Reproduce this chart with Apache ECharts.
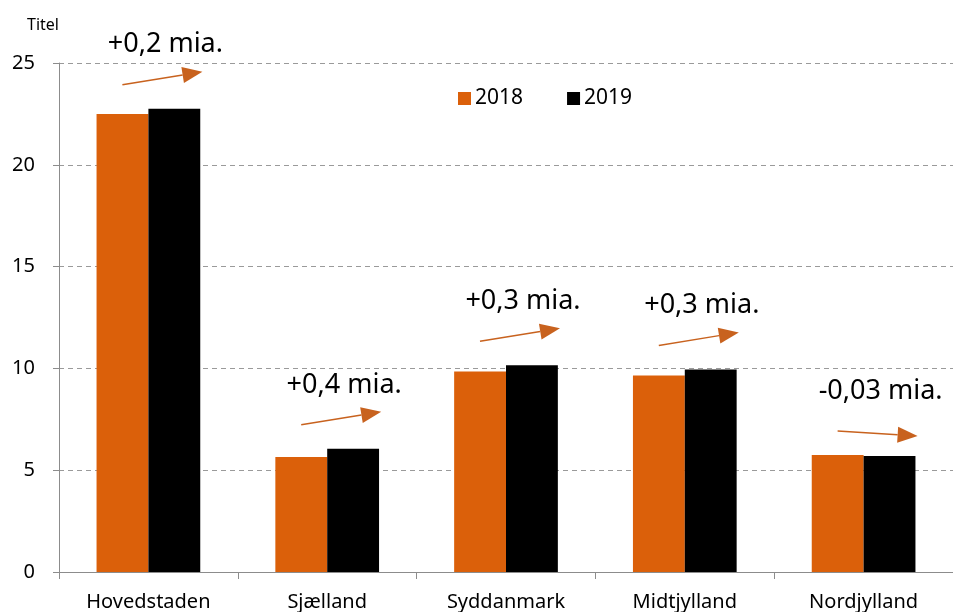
<!DOCTYPE html>
<html>
<head>
<meta charset="utf-8">
<script src="https://cdn.jsdelivr.net/npm/echarts@6/dist/echarts.min.js"></script>
<style>
  html, body { margin: 0; padding: 0; background: #fff; }
  #chart { width: 953px; height: 612px; }
</style>
</head>
<body>
<div id="chart"></div>
<script>
var regions = ['Hovedstaden', 'Sjælland', 'Syddanmark', 'Midtjylland', 'Nordjylland'];
var values2018 = [22.5, 5.65, 9.85, 9.65, 5.75];
var values2019 = [22.75, 6.05, 10.15, 9.95, 5.7];
var changeLabels = ['+0,2 mia.', '+0,4 mia.', '+0,3 mia.', '+0,3 mia.', '-0,03 mia.'];

var orange = '#DB600A';
var arrowColor = '#C8621E';
var fontName = '"Noto Sans", "Open Sans", sans-serif';

var dom = document.getElementById('chart');
var myChart = echarts.init(dom, null, { renderer: 'canvas' });

var option = {
  animation: false,
  textStyle: { fontFamily: fontName, color: '#000' },
  grid: { left: 59, right: 0, top: 63, bottom: 40 },
  legend: {
    data: ['2018', '2019'],
    left: 453,
    top: 83,
    itemWidth: 13,
    itemHeight: 13,
    itemGap: 44,
    icon: 'rect',
    textStyle: { fontSize: 21, color: '#000', fontFamily: fontName, padding: [0, 0, 0, -1] }
  },
  xAxis: {
    type: 'category',
    data: regions,
    axisLine: { lineStyle: { color: '#8c8c8c' } },
    axisTick: { show: true, length: 7, lineStyle: { color: '#8c8c8c' } },
    axisLabel: { fontSize: 20, color: '#000', margin: 20 }
  },
  yAxis: {
    type: 'value',
    min: 0,
    max: 25,
    interval: 5,
    name: 'Titel',
    nameLocation: 'end',
    nameGap: 30,
    nameTextStyle: { fontSize: 16, color: '#000', align: 'right', padding: [0, 0, 0, 0] },
    axisLine: { show: true, lineStyle: { color: '#8c8c8c' } },
    axisTick: { show: true, length: 6, lineStyle: { color: '#8c8c8c' } },
    axisLabel: { fontSize: 20, color: '#000', margin: 24 },
    splitLine: { lineStyle: { color: '#9a9a9a', type: [5, 4] } }
  },
  series: [
    {
      name: '2018',
      type: 'bar',
      data: values2018,
      barGap: '0%',
      barCategoryGap: '42%',
      itemStyle: { color: orange }
    },
    {
      name: '2019',
      type: 'bar',
      data: values2019,
      itemStyle: { color: '#000' }
    }
  ]
};

myChart.setOption(option);

// annotation arrows + text, placed relative to the taller bar of each region
function drawNotes() {
  var els = [];
  regions.forEach(function (r, i) {
    var top = Math.max(values2018[i], values2019[i]);
    var p = myChart.convertToPixel({ xAxisIndex: 0, yAxisIndex: 0 }, [i, top]);
    var up = values2019[i] >= values2018[i];
    var x1 = p[0] - 26, y1 = p[1] - 24;
    var x2 = p[0] + 54, y2 = up ? y1 - 13 : y1 + 5;
    var ang = Math.atan2(y2 - y1, x2 - x1);
    var hl = 20, hw = 8;
    var bx = x2 - hl * Math.cos(ang), by = y2 - hl * Math.sin(ang);
    var nx = -Math.sin(ang), ny = Math.cos(ang);
    els.push({
      type: 'line',
      shape: { x1: x1, y1: y1, x2: bx, y2: by },
      style: { stroke: arrowColor, lineWidth: 1.5 }
    });
    els.push({
      type: 'polygon',
      shape: { points: [[x2, y2], [bx + nx * hw, by + ny * hw], [bx - nx * hw, by - ny * hw]] },
      style: { fill: arrowColor }
    });
    els.push({
      type: 'text',
      x: p[0] + 17,
      y: p[1] - 64,
      style: {
        text: changeLabels[i],
        fontSize: 27,
        fontFamily: fontName,
        fill: '#000',
        align: 'center',
        verticalAlign: 'middle'
      }
    });
  });
  myChart.setOption({ graphic: { elements: els } });
}
drawNotes();

window.addEventListener('resize', myChart.resize);
</script>
</body>
</html>
